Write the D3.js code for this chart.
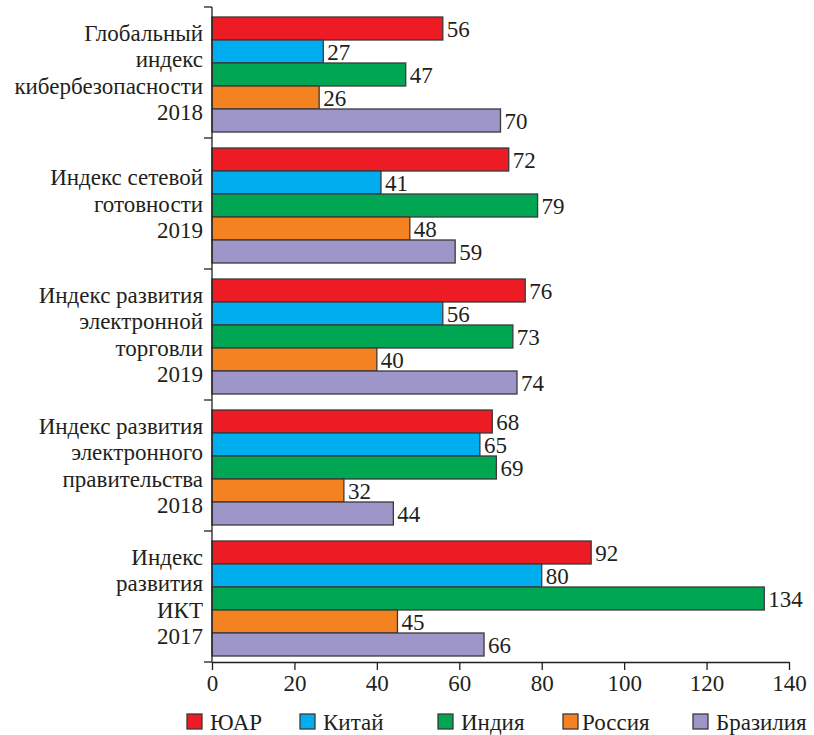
<!DOCTYPE html>
<html><head><meta charset="utf-8">
<script src="https://cdn.jsdelivr.net/npm/d3@7"></script>
<style>body{margin:0;background:#fff}svg{display:block}</style>
</head><body><div id="chart"></div>
<script>
const categories = [
  ["Глобальный","индекс","кибербезопасности","2018"],
  ["Индекс сетевой","готовности","2019"],
  ["Индекс развития","электронной","торговли","2019"],
  ["Индекс развития","электронного","правительства","2018"],
  ["Индекс","развития","ИКТ","2017"]
];
const seriesNames = ["ЮАР","Китай","Индия","Россия","Бразилия"];
const seriesColors = ["#ed1c24","#00aeef","#00a651","#f58220","#9e95c8"];
const valuesSAR    = [56, 72, 76, 68, 92];
const valuesChina  = [27, 41, 56, 65, 80];
const valuesIndia  = [47, 79, 73, 69, 134];
const valuesRussia = [26, 48, 40, 32, 45];
const valuesBrazil = [70, 59, 74, 44, 66];
const xTicks = [0,20,40,60,80,100,120,140];

const series = [valuesSAR, valuesChina, valuesIndia, valuesRussia, valuesBrazil];
const FONT = '"Liberation Serif", "Times New Roman", serif';
const FS = "23px";
const ink = "#231f20";
const W = 814, H = 735;
const svg = d3.select("#chart").append("svg").attr("width", W).attr("height", H);
const catIdx = categories.map((c,i)=>i);
const x = d3.scaleLinear().domain([0,140]).range([212,789]);
const y = d3.scaleBand().domain(catIdx).range([7,662]).padding(0);
const sub = d3.scaleBand().domain(d3.range(seriesNames.length)).range([10, 125]).padding(0);

function txt(sel){ return sel.style("font-family", FONT).style("font-size", FS).attr("fill", ink); }

catIdx.forEach(ci => {
  const g = svg.append("g").attr("transform", `translate(0,${y(ci)})`);
  series.forEach((vals, si) => {
    g.append("rect")
      .attr("x", x(0)).attr("y", sub(si))
      .attr("width", x(vals[ci]) - x(0)).attr("height", sub.bandwidth())
      .attr("fill", seriesColors[si]).attr("stroke", "#3a3a3a").attr("stroke-width", 1.3);
    txt(g.append("text"))
      .attr("x", x(vals[ci]) + 4).attr("y", sub(si) + sub.bandwidth()/2 + 8)
      .text(vals[ci]);
  });
  const lines = categories[ci];
  const cy = y(ci) + y.bandwidth()/2;
  lines.forEach((ln, k) => {
    txt(svg.append("text")).attr("x", 203).attr("y", cy + (k - (lines.length-1)/2)*26.5 + 8)
      .attr("text-anchor","end").text(ln);
  });
});

const yEdges = catIdx.map(i => y(i)).concat([y.range()[1]]);
svg.append("line").attr("x1",x(0)).attr("x2",x(0)).attr("y1",yEdges[0]).attr("y2",yEdges[yEdges.length-1]).attr("stroke",ink).attr("stroke-width",1.3);
yEdges.forEach(v => svg.append("line").attr("x1",x(0)-8).attr("x2",x(0)).attr("y1",v).attr("y2",v).attr("stroke",ink).attr("stroke-width",1.3));

const xAxis = d3.axisBottom(x).tickValues(xTicks).tickSize(8).tickPadding(5).tickSizeOuter(0);
const ax = svg.append("g").attr("transform", `translate(0,${y.range()[1]})`).call(xAxis);
ax.select(".domain").attr("stroke", ink).attr("stroke-width",1.3);
ax.selectAll(".tick line").attr("stroke", ink).attr("stroke-width",1.3);
txt(ax.selectAll(".tick text"));

const legX = [187, 300, 438, 563, 693];
const lg = svg.append("g");
seriesNames.forEach((n, i) => {
  lg.append("rect").attr("x", legX[i]).attr("y", 714).attr("width", 15).attr("height", 15)
    .attr("fill", seriesColors[i]).attr("stroke", "#3a3a3a").attr("stroke-width", 1.3);
  txt(lg.append("text")).attr("x", legX[i] + (i===3 ? 19 : 23)).attr("y", 730).text(n);
});
</script></body></html>
